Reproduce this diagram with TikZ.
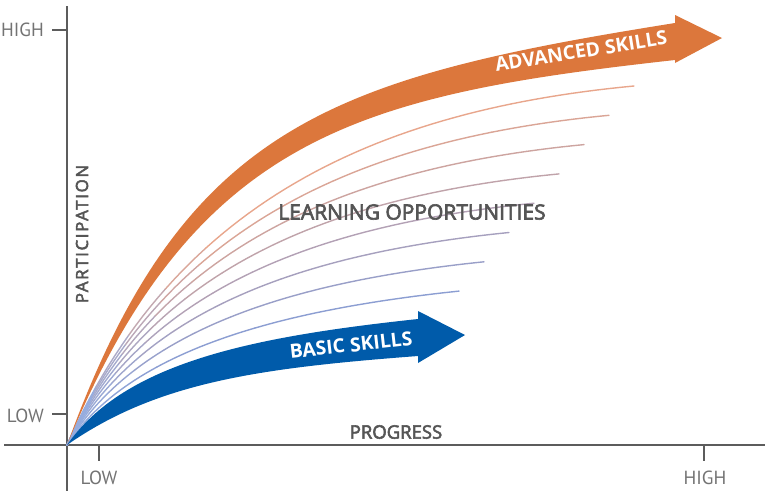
\documentclass[tikz,border=0pt]{standalone}
\usepackage{fontspec}
\setmainfont{PT Sans}
\newfontfamily\ttlfont[FakeBold=3]{Open Sans}
\newfontfamily\ttlspaced[FakeBold=3,LetterSpace=10]{Open Sans}
\newfontfamily\arrfont{Open Sans}
\definecolor{axisgray}{RGB}{92,92,92}
\definecolor{labgray}{RGB}{115,115,115}
\definecolor{txtgray}{RGB}{85,85,85}
\definecolor{orng}{RGB}{220,119,60}
\definecolor{blu}{RGB}{0,91,170}
\definecolor{lnstart}{RGB}{150,172,222}
\definecolor{lntop}{RGB}{232,166,140}
\definecolor{lnbot}{RGB}{140,158,210}
\begin{document}
\begin{tikzpicture}[x=1pt,y=-1pt,
  axisline/.style={draw=axisgray,line width=2.4pt},
  ticklab/.style={text=labgray,font=\fontsize{19}{20}\selectfont,inner sep=0pt},
  title/.style={text=txtgray,inner sep=0pt},
  arrowlab/.style={text=white,font=\arrfont\fontsize{19.4}{20}\selectfont\bfseries,inner sep=0pt}]
\useasboundingbox (0,0) rectangle (765,491);
% axes
\coordinate (O) at (67,445);
\coordinate (ytop) at (67,6);
\coordinate (ybot) at (67,491);
\coordinate (xl) at (4,445);
\coordinate (xr) at (765,445);
\draw[axisline] (ytop) -- (ybot);
\draw[axisline] (xl) -- (xr);
\coordinate (th1) at (52,30);  \coordinate (th2) at (67,30);
\coordinate (tl1) at (52,414); \coordinate (tl2) at (67,414);
\coordinate (bl1) at (99,445); \coordinate (bl2) at (99,461);
\coordinate (bh1) at (704,445); \coordinate (bh2) at (704,461);
\draw[axisline] (th1) -- (th2);
\draw[axisline] (tl1) -- (tl2);
\draw[axisline] (bl1) -- (bl2);
\draw[axisline] (bh1) -- (bh2);
\node[ticklab,anchor=east] (yhigh) at (44,30) {HIGH};
\node[ticklab,anchor=east] (ylow) at (44,416) {LOW};
\node[ticklab] (xlow) at (99,478) {LOW};
\node[ticklab] (xhigh) at (705,478) {HIGH};
% learning opportunity lines
\foreach \k in {1,...,8}{
  \pgfmathsetmacro\f{(\k-1)/7}
  \pgfmathsetmacro\ax{175-45*\f}
  \pgfmathsetmacro\ay{200+150*\f}
  \pgfmathsetmacro\bx{380-100*\f}
  \pgfmathsetmacro\by{110+200*\f}
  \pgfmathsetmacro\ex{634-25*(\k-1)}
  \pgfmathsetmacro\ey{86+29.3*(\k-1)}
  \pgfmathtruncatemacro\p{100*(1-\f)}
  \colorlet{endc}{lntop!\p!lnbot}
  \foreach \j in {0,...,11}{
    \pgfmathsetmacro\ta{\j/12}
    \pgfmathsetmacro\tb{(\j+1)/12}
    \pgfmathtruncatemacro\m{min(100,100*\ta/0.3)}
    \draw[line width=1.4pt, color=endc!\m!lnstart, line cap=round]
      plot[domain=\ta:\tb, samples=6, variable=\t]
      ({(1-\t)^3*67+3*\t*(1-\t)^2*\ax+3*\t^2*(1-\t)*\bx+\t^3*\ex},
       {(1-\t)^3*445+3*\t*(1-\t)^2*\ay+3*\t^2*(1-\t)*\by+\t^3*\ey});
  }
}
% advanced skills arrow
\coordinate (oa1) at (675,23);
\coordinate (oa2) at (675,15);
\coordinate (otip) at (722,38);
\coordinate (oa3) at (675,63);
\coordinate (oa4) at (675,60);
\fill[orng] (O) .. controls (183,125) and (330,78) .. (oa1) -- (oa2) -- (otip) -- (oa3) -- (oa4)
  .. controls (360,95) and (195,135) .. (O) -- cycle;
% basic skills arrow
\coordinate (ba1) at (418,319);
\coordinate (ba2) at (418,311);
\coordinate (btip) at (465,335);
\coordinate (ba3) at (418,363);
\coordinate (ba4) at (418,356);
\fill[blu] (O) .. controls (124,363) and (250,337) .. (ba1) -- (ba2) -- (btip) -- (ba3) -- (ba4)
  .. controls (260,368) and (157,382) .. (O) -- cycle;
% labels
\node[arrowlab,rotate=9] (adv) at (581,51) {ADVANCED SKILLS};
\node[arrowlab,rotate=6.5] (bas) at (351,345) {BASIC SKILLS};
\node[title,font=\ttlfont\fontsize{21}{22}\selectfont] (learn) at (412,212) {LEARNING OPPORTUNITIES};
\node[title,rotate=90,font=\ttlspaced\fontsize{16.8}{18}\selectfont] (part) at (82,234) {PARTICIPATION};
\node[title,font=\ttlfont\fontsize{18.5}{19}\selectfont] (prog) at (396,432) {PROGRESS};
\end{tikzpicture}
\end{document}
